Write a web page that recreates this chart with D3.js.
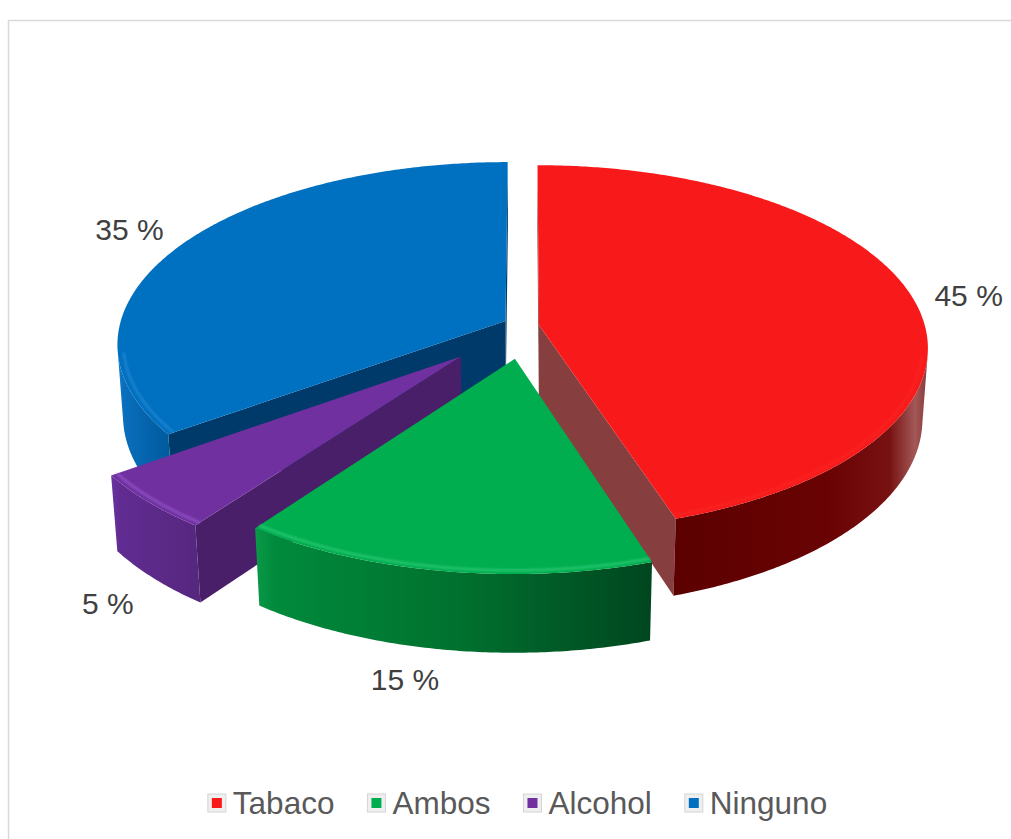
<!DOCTYPE html>
<html>
<head>
<meta charset="utf-8">
<script src="https://cdn.jsdelivr.net/npm/d3@7"></script>
<style>
  body { margin: 0; background: #fff; }
  svg { display: block; }
</style>
</head>
<body>
<div id="chart"></div>
<script>
// data
const categories = ["Tabaco", "Ambos", "Alcohol", "Ninguno"];
const values = [45, 15, 5, 35];
const labels = ["45 %", "15 %", "5 %", "35 %"];

// styles
const topColors = ["#f81a1a", "#00ad4f", "#7030a0", "#0070c0"];
const sideStops = [
  [[0, "#5c0000"], [0.6, "#690303"], [0.85, "#781212"], [0.95, "#a35858"], [1, "#8a3a3a"]],
  [[0, "#0a9a48"], [0.05, "#008a3c"], [0.5, "#00722f"], [1, "#00461f"]],
  [[0, "#6a33a2"], [0.1, "#612c92"], [1, "#56277f"]],
  [[0, "#1580d0"], [0.1, "#0a6fbd"], [1, "#005a9e"]]
];
const wallColors = ["#873e3e", "#006b30", "#4a1f69", "#003a6b"];
const rimColors = ["#ff3a3a", "#3fd585", "#a066d6", "#3a98e0"];
const rimOpacity = [0.25, 0.6, 0.6, 0.5];
const explode = [0.034, 0.18, 0.234, 0.06];

const width = 1011, height = 839;

const svg = d3.select("#chart")
    .append("svg")
    .attr("width", width)
    .attr("height", height);

svg.append("rect")
    .attr("x", 8.5).attr("y", 20.5)
    .attr("width", 1010).attr("height", 830)
    .attr("fill", "#fff")
    .attr("stroke", "#d9d9d9")
    .attr("stroke-width", 1.5);

const defs = svg.append("defs");
defs.append("filter").attr("id", "soft")
    .append("feGaussianBlur").attr("stdDeviation", 1.2);

// 3d projection of the pie (radius 1, thickness H)
const cx = 526, cy = 326, S = 386, K = 0.14;
const sinA = 0.466, cosA = Math.sqrt(1 - sinA * sinA), H = 0.21;
const cam = [0, sinA / K, -cosA / K];

function project(p) {
    const depth = p[2] * cosA - p[1] * sinA;
    const v = p[2] * sinA + p[1] * cosA;
    const f = S / (1 + K * depth);
    return [cx + p[0] * f, cy - v * f];
}
function facing(n, p) {
    return n[0] * (cam[0] - p[0]) + n[1] * (cam[1] - p[1]) + n[2] * (cam[2] - p[2]) > 0;
}

const arcs = d3.pie().sort(null).value(d => d)(values);

const slices = arcs.map((d, i) => {
    const mid = (d.startAngle + d.endAngle) / 2;
    return {
        i: i, a: d.startAngle, b: d.endAngle, mid: mid,
        ox: explode[i] * Math.sin(mid), oz: explode[i] * Math.cos(mid)
    };
});
const pt = (s, th, r, y) => [s.ox + r * Math.sin(th), y, s.oz + r * Math.cos(th)];

const line = d3.line();
const closed = pts => line(pts.map(project)) + "Z";

// back to front
const order = slices.slice().sort((p, q) =>
    (q.oz + 0.5 * Math.cos(q.mid)) - (p.oz + 0.5 * Math.cos(p.mid)));

const pieG = svg.append("g");

order.forEach(s => {
    const g = pieG.append("g");
    const step = Math.PI / 360;
    const n = Math.max(2, Math.ceil((s.b - s.a) / step));
    const ths = d3.range(n + 1).map(k => s.a + (s.b - s.a) * k / n);

    // radial walls
    const walls = [
        { th: s.a, n: [-Math.cos(s.a), 0, Math.sin(s.a)] },
        { th: s.b, n: [Math.cos(s.b), 0, -Math.sin(s.b)] }
    ];
    walls.forEach(w => {
        const c = pt(s, 0, 0, -H / 2);
        if (!facing(w.n, c)) return;
        g.append("path")
            .attr("d", closed([pt(s, w.th, 0, 0), pt(s, w.th, 1, 0), pt(s, w.th, 1, -H), pt(s, w.th, 0, -H)]))
            .attr("fill", wallColors[s.i]);
    });

    // outer wall, visible runs
    const runs = [];
    let cur = null;
    ths.forEach(th => {
        const vis = facing([Math.sin(th), 0, Math.cos(th)], pt(s, th, 1, -H / 2));
        if (vis) { if (!cur) { cur = []; runs.push(cur); } cur.push(th); }
        else cur = null;
    });
    runs.forEach((run, ri) => {
        if (run.length < 2) return;
        const topPts = run.map(th => pt(s, th, 1, 0));
        const botPts = run.slice().reverse().map(th => pt(s, th, 1, -H));
        const xs = topPts.map(p => project(p)[0]);
        const id = "side" + s.i + "_" + ri;
        const grad = defs.append("linearGradient").attr("id", id)
            .attr("gradientUnits", "userSpaceOnUse")
            .attr("x1", d3.min(xs)).attr("x2", d3.max(xs))
            .attr("y1", 0).attr("y2", 0);
        sideStops[s.i].forEach(st => grad.append("stop")
            .attr("offset", st[0]).attr("stop-color", st[1]));
        g.append("path")
            .attr("d", closed(topPts.concat(botPts)))
            .attr("fill", "url(#" + id + ")");
    });

    // top face
    const topFace = [pt(s, 0, 0, 0)].concat(ths.map(th => pt(s, th, 1, 0)));
    g.append("path")
        .attr("d", closed(topFace))
        .attr("fill", topColors[s.i]);

    // soft highlight on the front rim
    runs.forEach(run => {
        if (run.length < 2) return;
        g.append("path")
            .attr("d", line(run.map(th => project(pt(s, th, 0.985, 0)))))
            .attr("fill", "none")
            .attr("stroke", rimColors[s.i])
            .attr("stroke-width", 2.5)
            .attr("opacity", rimOpacity[s.i])
            .attr("filter", "url(#soft)");
    });
});

// data labels
const labelGap = 0.06;
slices.forEach(s => {
    const sn = Math.sin(s.mid), cs = Math.cos(s.mid);
    const r = 1 + labelGap;
    const p = project(pt(s, s.mid, r, cs < 0 ? -H : 0));
    const anchor = sn > 0.1 ? "start" : (sn < -0.1 ? "end" : "middle");
    let dy = "0.35em";
    if (cs > 0.3) dy = "0em";
    else if (cs < -0.3) dy = "0.85em";
    svg.append("text")
        .attr("x", p[0]).attr("y", p[1])
        .attr("dy", dy)
        .attr("text-anchor", anchor)
        .attr("font-family", "'Liberation Sans', Arial, sans-serif")
        .attr("font-size", 30)
        .attr("fill", "#404040")
        .text(labels[s.i]);
});

// legend
const legend = svg.append("g");
const items = legend.selectAll("g.item")
    .data(categories)
    .enter()
    .append("g")
    .attr("class", "item");

items.append("text")
    .attr("font-family", "'Liberation Sans', Arial, sans-serif")
    .attr("font-size", 31.5)
    .attr("fill", "#595959")
    .text(d => d);

let lx = 0;
const boxW = 20, boxGap = 6, itemGap = 32;
items.each(function (d, i) {
    const it = d3.select(this);
    const tw = it.select("text").node().getComputedTextLength();
    it.attr("transform", "translate(" + lx + ",0)");
    it.select("text").attr("x", boxW + boxGap).attr("y", 0);
    it.insert("rect", "text")
        .attr("x", 1).attr("y", -20)
        .attr("width", 18).attr("height", 18)
        .attr("fill", "#efefef")
        .attr("stroke", "#d4d4d4");
    it.insert("rect", "text")
        .attr("x", 5).attr("y", -16)
        .attr("width", 10).attr("height", 10)
        .attr("fill", topColors[i]);
    lx += boxW + boxGap + tw + itemGap;
});
lx -= itemGap;
legend.attr("transform", "translate(" + (517 - lx / 2) + ",814)");
</script>
</body>
</html>
